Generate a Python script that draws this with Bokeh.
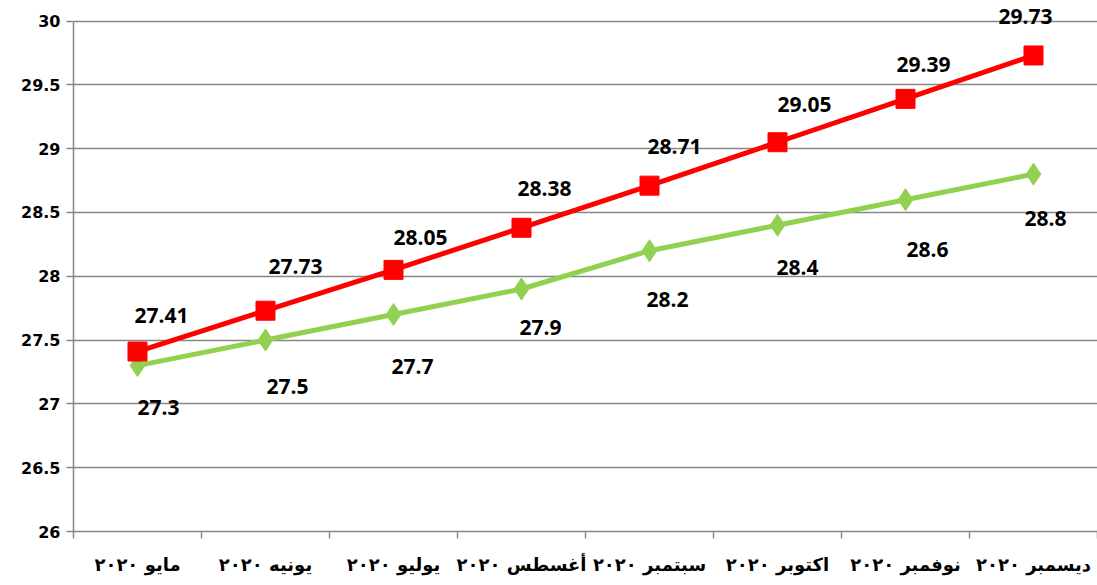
from bokeh.plotting import figure
from bokeh.models import ColumnDataSource, FixedTicker, Range1d, LabelSet
from bokeh.core.properties import value
from bokeh.embed import file_html
from bokeh.resources import INLINE

months = ["مايو ٢٠٢٠", "يونيه ٢٠٢٠", "يوليو ٢٠٢٠", "أغسطس ٢٠٢٠",
          "سبتمبر ٢٠٢٠", "اكتوبر ٢٠٢٠", "نوفمبر ٢٠٢٠", "ديسمبر ٢٠٢٠"]
red_values = [27.41, 27.73, 28.05, 28.38, 28.71, 29.05, 29.39, 29.73]
green_values = [27.3, 27.5, 27.7, 27.9, 28.2, 28.4, 28.6, 28.8]
y_ticks = [26, 26.5, 27, 27.5, 28, 28.5, 29, 29.5, 30]

# label placement (styling only)
red_dx = [24, 30, 27, 23, 25, 27, 18, -8]
red_dy = [36, 44, 32, 39, 39, 38, 34, 39]
green_dx = [21, 22, 19, 19, 18, 20, 22, 12]
green_dy = [-42, -46, -52, -38, -49, -42, -50, -44]

x = [i + 0.5 for i in range(len(months))]
src = ColumnDataSource(dict(
    x=x, red=red_values, green=green_values,
    red_lbl=[f"{v:g}" for v in red_values],
    green_lbl=[f"{v:g}" for v in green_values],
    rdx=red_dx, rdy=red_dy, gdx=green_dx, gdy=green_dy,
))

GRID = "#878787"
p = figure(width=1097, height=577, output_backend="svg", toolbar_location=None,
           x_range=Range1d(0, len(months)), y_range=Range1d(26, 30.145),
           min_border_left=73, min_border_right=0, min_border_top=2,
           min_border_bottom=34)
p.outline_line_color = None
p.xgrid.grid_line_color = None
p.ygrid.grid_line_color = GRID
p.ygrid.grid_line_width = 1.5
p.ygrid.ticker = FixedTicker(ticks=y_ticks)

p.yaxis.ticker = FixedTicker(ticks=y_ticks)
p.yaxis.bounds = (26, 30)
p.yaxis.axis_line_color = GRID
p.yaxis.axis_line_width = 1.5
p.yaxis.major_tick_line_color = GRID
p.yaxis.major_tick_line_width = 1.5
p.yaxis.major_tick_in = 0
p.yaxis.major_tick_out = 7
p.yaxis.minor_tick_line_color = None
p.yaxis.major_label_text_font = "DejaVu Sans"
p.yaxis.major_label_text_font_style = "bold"
p.yaxis.major_label_text_font_size = "16px"
p.yaxis.major_label_text_color = "black"
p.yaxis.major_label_standoff = 6

p.xaxis.ticker = FixedTicker(ticks=x, minor_ticks=list(range(len(months) + 1)))
p.xaxis.major_label_overrides = {v: m for v, m in zip(x, months)}
p.xaxis.axis_line_color = GRID
p.xaxis.axis_line_width = 1.5
p.xaxis.major_tick_line_color = None
p.xaxis.minor_tick_line_color = GRID
p.xaxis.minor_tick_line_width = 1.5
p.xaxis.minor_tick_in = 0
p.xaxis.minor_tick_out = 7
p.xaxis.major_label_text_font = "DejaVu Sans"
p.xaxis.major_label_text_font_style = "bold"
p.xaxis.major_label_text_font_size = "18px"
p.xaxis.major_label_text_color = "black"
p.xaxis.major_label_standoff = 15

p.line("x", "green", source=src, line_color="#92D050", line_width=5)
p.scatter("x", "green", source=src, marker="diamond", size=22,
          fill_color="#92D050", line_color="#92D050")
p.line("x", "red", source=src, line_color="#FF0000", line_width=5)
p.scatter("x", "red", source=src, marker="square", size=19,
          fill_color="#FF0000", line_color="#FF0000")

common = dict(text_font=value("Open Sans"), text_font_style="bold",
              text_font_size="21px", text_color="black",
              text_align="center", text_baseline="middle")
p.add_layout(LabelSet(x="x", y="red", text="red_lbl", source=src,
                      x_offset="rdx", y_offset="rdy", **common))
p.add_layout(LabelSet(x="x", y="green", text="green_lbl", source=src,
                      x_offset="gdx", y_offset="gdy", **common))

open("out.html", "w").write(file_html(p, INLINE))
